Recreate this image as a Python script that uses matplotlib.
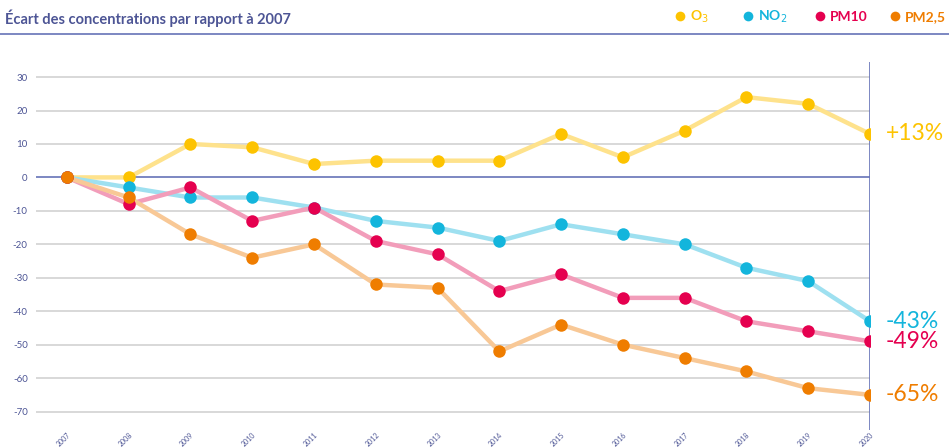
import numpy as np
import matplotlib.pyplot as plt
from matplotlib.lines import Line2D

plt.rcParams['font.family'] = ['Lato', 'DejaVu Sans']

years = list(range(2007, 2021))
o3    = [0, 0, 10, 9, 4, 5, 5, 5, 13, 6, 14, 24, 22, 13]
no2   = [0, -3, -6, -6, -9, -13, -15, -19, -14, -17, -20, -27, -31, -43]
pm10  = [0, -8, -3, -13, -9, -19, -23, -34, -29, -36, -36, -43, -46, -49]
pm25  = [0, -6, -17, -24, -20, -32, -33, -52, -44, -50, -54, -58, -63, -65]
end_labels = ['+13%', '-43%', '-49%', '-65%']
names = ['O$_3$', 'NO$_2$', 'PM10', 'PM2,5']

dark_cols  = ['#FDC300', '#13B5DC', '#E5004F', '#EF7D00']
light_cols = ['#FEE28C', '#9EE0F0', '#F29DBA', '#F8C896']
blue = '#6673B8'
txt = '#4D5595'

fig = plt.figure(figsize=(9.49, 4.47), dpi=100)
W, H = 949, 447
# axes box in pixels: left 36, right 870, top 62, bottom 430
ax = fig.add_axes([36 / W, 1 - 430 / H, (870 - 36) / W, (430 - 62) / H])
ax.set_xlim(2006.5, 2020)
ax.set_ylim(-75.5, 34.5)

for v in range(-70, 31, 10):
    if v == 0:
        ax.axhline(0, color=blue, lw=1.2, zorder=1)
    else:
        ax.axhline(v, color='#D6D6D6', lw=1.3, zorder=0)
ax.axvline(2020, color=blue, lw=1.2, zorder=1)

series = [o3, no2, pm10, pm25]
for s, lc in zip(series, light_cols):
    ax.plot(years, s, color=lc, lw=3.2, solid_capstyle='round', zorder=2)
for s, dc in zip(series, dark_cols):
    ax.plot(years, s, 'o', color=dc, ms=9, mec='none', zorder=3)

# end labels
for s, dc, lab in zip(series, dark_cols, end_labels):
    ax.text(2020.25, s[-1], lab, color=dc, fontsize=16.5, va='center', ha='left',
            clip_on=False)

for sp in ax.spines.values():
    sp.set_visible(False)
ax.set_yticks(range(-70, 31, 10))
ax.set_yticklabels([str(v) for v in range(-70, 31, 10)], fontsize=7, color=txt)
ax.set_xticks(years)
ax.set_xticklabels([str(y) for y in years], fontsize=5, color=txt,
                   rotation=45, ha='right', va='top', rotation_mode='anchor')
ax.tick_params(length=0, pad=6)
ax.tick_params(axis='x', pad=1)

# title
fig.text(5 / W, 1 - 18 / H, 'Écart des concentrations par rapport à 2007',
         fontsize=10.5, fontweight='bold', color=txt, va='center', ha='left')
fig.add_artist(Line2D([0, 1], [1 - 34 / H, 1 - 34 / H], color=blue, lw=1.2,
                      transform=fig.transFigure))

# legend
leg_x = [680, 748, 820, 895]
for x, n, dc in zip(leg_x, names, dark_cols):
    fig.add_artist(Line2D([x / W], [1 - 16 / H], marker='o', ms=7, color=dc,
                          mec='none', transform=fig.transFigure))
    fig.text((x + 10) / W, 1 - 17 / H, n, fontsize=10, fontweight='bold',
             color=dc, va='center', ha='left')

fig.savefig('out.png', dpi=100)
